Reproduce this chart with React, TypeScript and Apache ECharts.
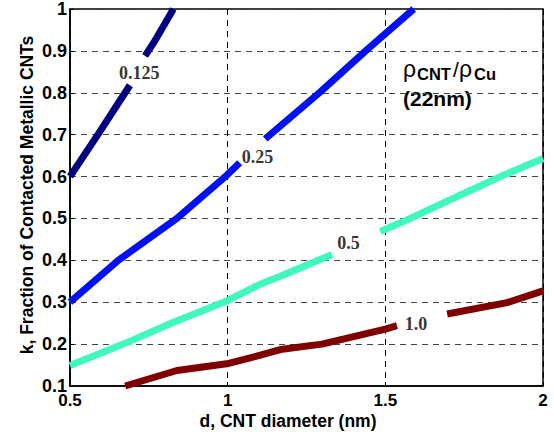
import React, { useEffect, useRef } from "react";
import * as echarts from "echarts";

// [d (nm), k]
const curve0125a = [[0.5, 0.6], [0.59, 0.702], [0.69, 0.818]];
const curve0125b = [[0.738, 0.888], [0.765, 0.919], [0.828, 1.0]];
const curve025a = [[0.5, 0.3], [0.653, 0.4], [0.839, 0.5], [0.997, 0.603], [1.038, 0.633]];
const curve025b = [[1.119, 0.69], [1.294, 0.802], [1.442, 0.903], [1.59, 1.0]];
const curve05a = [[0.5, 0.149], [0.669, 0.2], [0.828, 0.252], [0.997, 0.303], [1.103, 0.343], [1.167, 0.362], [1.331, 0.414]];
const curve05b = [[1.484, 0.469], [1.579, 0.5], [1.738, 0.556], [1.865, 0.6], [2.0, 0.643]];
const curve10a = [[0.675, 0.1], [0.839, 0.137], [0.997, 0.153], [1.071, 0.167], [1.167, 0.187], [1.299, 0.2], [1.5, 0.236], [1.537, 0.244]];
const curve10b = [[1.696, 0.272], [1.886, 0.299], [2.0, 0.327]];

const curveLabels = ["0.125", "0.25", "0.5", "1.0"];
const labelPositions = [[0.72, 0.848], [1.095, 0.647], [1.383, 0.441], [1.597, 0.248]];

const xTicks = [0.5, 1, 1.5, 2];
const yTicks = [0.1, 0.2, 0.3, 0.4, 0.5, 0.6, 0.7, 0.8, 0.9, 1];

const xTitle = "d, CNT diameter (nm)";
const yTitle = "k, Fraction of Contacted Metallic CNTs";

const colors = ["#000080", "#0010F5", "#40F8C0", "#800000"];

export default function App() {
  const ref = useRef<HTMLDivElement>(null);
  useEffect(() => {
    if (!ref.current) return;
    const chart = echarts.init(ref.current, undefined, { renderer: "svg" });
    const seg = (data: number[][], color: string) => ({
      type: "line",
      data,
      showSymbol: false,
      symbol: "none",
      smooth: false,
      lineStyle: { color, width: 7, cap: "butt" },
      z: 3,
    });
    const sans = "Arial, 'Liberation Sans', sans-serif";
    const option: any = {
      animation: false,
      backgroundColor: "#fff",
      grid: {
        left: 70, right: 11, top: 5.5, bottom: 52,
        show: true, borderColor: "#000", borderWidth: 1.5, backgroundColor: "transparent",
      },
      xAxis: {
        type: "value", min: xTicks[0], max: xTicks[xTicks.length - 1], interval: 0.5,
        axisLine: { lineStyle: { color: "#000", width: 1.5 } },
        axisTick: { inside: true, length: 4, lineStyle: { color: "#000" } },
        axisLabel: {
          color: "#000", fontFamily: sans, fontWeight: "bold", fontSize: 17, margin: 6,
          formatter: (v: number) => String(+v.toFixed(1)),
        },
        splitLine: { show: true, lineStyle: { color: "#000", type: [6, 5], width: 1 } },
      },
      yAxis: {
        type: "value", min: yTicks[0], max: yTicks[yTicks.length - 1], interval: 0.1,
        axisLine: { show: true, lineStyle: { color: "#000", width: 1.5 } },
        axisTick: { show: true, inside: true, length: 4, lineStyle: { color: "#000" } },
        axisLabel: {
          color: "#000", fontFamily: sans, fontWeight: "bold", fontSize: 18, margin: 3,
          formatter: (v: number) => String(+v.toFixed(1)),
        },
        splitLine: { show: true, lineStyle: { color: "#444", type: [6, 5], width: 1 } },
      },
      series: [
        seg(curve0125a, colors[0]), seg(curve0125b, colors[0]),
        seg(curve025a, colors[1]), seg(curve025b, colors[1]),
        seg(curve05a, colors[2]), seg(curve05b, colors[2]),
        seg(curve10a, colors[3]), seg(curve10b, colors[3]),
        {
          type: "scatter",
          symbolSize: 0,
          z: 5,
          data: labelPositions.map((p, i) => ({ value: p, name: curveLabels[i] })),
          label: {
            show: true, position: "inside",
            formatter: (p: any) => p.name,
            color: "#000", fontFamily: "'Times New Roman', 'Liberation Serif', serif",
            fontWeight: "bold", fontSize: 18,
          },
        },
      ],
      graphic: [
        { type: "text", x: 288, y: 421, style: { text: xTitle, fill: "#000", font: `bold 17.5px ${sans}`, align: "center", verticalAlign: "middle" } },
        { type: "text", x: 27, y: 195, rotation: Math.PI / 2, style: { text: yTitle, fill: "#000", font: `bold 17.5px ${sans}`, align: "center", verticalAlign: "middle" } },
        { type: "text", x: 403, y: 69, style: { text: "ρ", fill: "#000", font: `23px ${sans}`, align: "left", verticalAlign: "middle" } },
        { type: "text", x: 417, y: 74, style: { text: "CNT", fill: "#000", font: `bold 16.5px ${sans}`, align: "left", verticalAlign: "middle" } },
        { type: "text", x: 453, y: 69, style: { text: "/", fill: "#000", font: `21px ${sans}`, align: "left", verticalAlign: "middle" } },
        { type: "text", x: 459, y: 69, style: { text: "ρ", fill: "#000", font: `23px ${sans}`, align: "left", verticalAlign: "middle" } },
        { type: "text", x: 474, y: 74, style: { text: "Cu", fill: "#000", font: `bold 16.5px ${sans}`, align: "left", verticalAlign: "middle" } },
        { type: "text", x: 403, y: 98, style: { text: "(22nm)", fill: "#000", font: `bold 21px ${sans}`, align: "left", verticalAlign: "middle" } },
      ],
    };
    chart.setOption(option);
    return () => chart.dispose();
  }, []);
  return <div ref={ref} style={{ position: "fixed", left: 0, top: 0, width: 554, height: 438 }} />;
}
